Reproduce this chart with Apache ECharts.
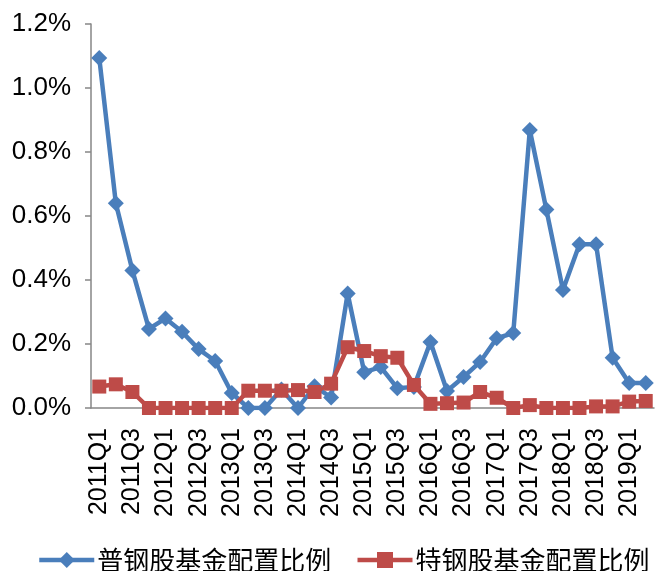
<!DOCTYPE html>
<html>
<head>
<meta charset="utf-8">
<script src="https://cdn.jsdelivr.net/npm/echarts@6/dist/echarts.min.js"></script>
<style>
  html, body { margin: 0; padding: 0; background: #fff; }
</style>
</head>
<body>
<div id="main" style="width: 655px;height:571px;"></div>
<script type="text/javascript">
    // 季度
    var quarters = [
        '2011Q1', '2011Q2', '2011Q3', '2011Q4', '2012Q1', '2012Q2', '2012Q3', '2012Q4',
        '2013Q1', '2013Q2', '2013Q3', '2013Q4', '2014Q1', '2014Q2', '2014Q3', '2014Q4',
        '2015Q1', '2015Q2', '2015Q3', '2015Q4', '2016Q1', '2016Q2', '2016Q3', '2016Q4',
        '2017Q1', '2017Q2', '2017Q3', '2017Q4', '2018Q1', '2018Q2', '2018Q3', '2018Q4',
        '2019Q1', '2019Q2'
    ];
    // 普钢股基金配置比例 (%)
    var commonSteel = [
        1.094, 0.640, 0.430, 0.247, 0.280, 0.238, 0.184, 0.147,
        0.047, 0.000, 0.000, 0.058, 0.000, 0.068, 0.033, 0.358,
        0.112, 0.128, 0.062, 0.066, 0.206, 0.053, 0.097, 0.144,
        0.218, 0.234, 0.869, 0.620, 0.369, 0.512, 0.512, 0.157,
        0.078, 0.078
    ];
    // 特钢股基金配置比例 (%)
    var specialSteel = [
        0.067, 0.074, 0.050, 0.000, 0.000, 0.000, 0.000, 0.000,
        0.000, 0.054, 0.054, 0.054, 0.056, 0.050, 0.076, 0.190,
        0.178, 0.162, 0.157, 0.072, 0.013, 0.015, 0.017, 0.050,
        0.032, 0.000, 0.009, 0.000, 0.000, 0.000, 0.005, 0.005,
        0.020, 0.022
    ];
    var seriesNames = ['普钢股基金配置比例', '特钢股基金配置比例'];

    var myChart = echarts.init(document.getElementById('main'));

    var axisGray = '#868686';
    var option = {
        animation: false,
        grid: {
            left: 91,
            right: 1,
            top: 24,
            bottom: 163
        },
        legend: {
            top: 540,
            left: 32,
            itemWidth: 55,
            itemHeight: 20,
            itemGap: 24,
            lineStyle: { width: 4.5 },
            textStyle: {
                fontFamily: 'Noto Sans CJK SC',
                fontSize: 26,
                lineHeight: 30,
                color: '#000',
                padding: [0, 0, 0, -2]
            },
            data: seriesNames
        },
        xAxis: {
            type: 'category',
            data: quarters,
            boundaryGap: true,
            axisLine: { lineStyle: { color: axisGray, width: 1.5 } },
            axisTick: {
                interval: 0,
                length: 6,
                lineStyle: { color: axisGray, width: 1.5 }
            },
            axisLabel: {
                interval: 1,
                rotate: 90,
                margin: 20,
                fontFamily: 'Liberation Sans',
                fontSize: 25,
                color: '#000'
            }
        },
        yAxis: {
            type: 'value',
            min: 0,
            max: 1.2,
            interval: 0.2,
            splitLine: { show: false },
            axisLine: { show: true, lineStyle: { color: axisGray, width: 1.5 } },
            axisTick: { show: true, length: 6, lineStyle: { color: axisGray, width: 1.5 } },
            axisLabel: {
                margin: 20,
                fontFamily: 'Liberation Sans',
                fontSize: 26,
                color: '#000',
                formatter: function (v) { return v.toFixed(1) + '%'; }
            }
        },
        series: [
            {
                name: seriesNames[0],
                type: 'line',
                data: commonSteel,
                symbol: 'diamond',
                symbolSize: 16,
                showAllSymbol: true,
                lineStyle: { color: '#4a7ebb', width: 4.5 },
                itemStyle: { color: '#4a7ebb' }
            },
            {
                name: seriesNames[1],
                type: 'line',
                data: specialSteel,
                symbol: 'rect',
                symbolSize: 14,
                showAllSymbol: true,
                lineStyle: { color: '#be4b48', width: 4.5 },
                itemStyle: { color: '#be4b48' }
            }
        ]
    };

    myChart.setOption(option);
</script>
</body>
</html>
